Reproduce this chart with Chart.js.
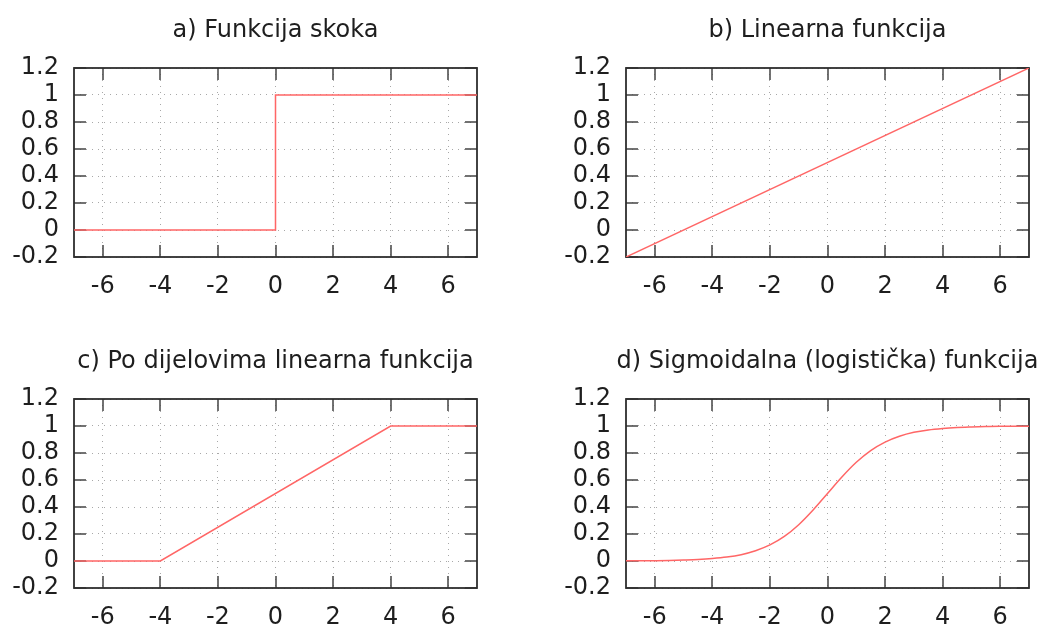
<!DOCTYPE html>
<html>
<head>
<meta charset="utf-8">
<script src="https://cdn.jsdelivr.net/npm/chart.js@4"></script>
<style>
  html, body { margin: 0; padding: 0; background: #fff; overflow: hidden; }
  body { width: 1048px; height: 628px; position: relative; }
  canvas { position: absolute; }
</style>
</head>
<body>
<canvas id="pa" width="551" height="314" style="left:0;top:0"></canvas>
<canvas id="pb" width="607" height="314" style="left:524px;top:0"></canvas>
<canvas id="pc" width="551" height="314" style="left:0;top:331px"></canvas>
<canvas id="pd" width="607" height="314" style="left:524px;top:331px"></canvas>
<script>
// ---- data ----
const xTicks = [-6, -4, -2, 0, 2, 4, 6];
const yTicks = [-0.2, 0, 0.2, 0.4, 0.6, 0.8, 1, 1.2];

const stepX = [-7, 0, 0, 7];
const stepY = [0, 0, 1, 1];

const linX = [-7, 7];
const linY = [-0.2, 1.2];

const pwX = [-7, -4, 4, 7];
const pwY = [0, 0, 1, 1];

const sigX = [-7, -6.5, -6, -5.5, -5, -4.5, -4, -3.5, -3, -2.5, -2, -1.5, -1, -0.5, 0,
              0.5, 1, 1.5, 2, 2.5, 3, 3.5, 4, 4.5, 5, 5.5, 6, 6.5, 7];
const sigY = [0.001, 0.0015, 0.0025, 0.004, 0.007, 0.011, 0.018, 0.029, 0.047, 0.076, 0.119, 0.182, 0.269, 0.378, 0.5,
              0.622, 0.731, 0.818, 0.881, 0.924, 0.953, 0.971, 0.982, 0.989, 0.993, 0.996, 0.998, 0.998, 0.999];

// ---- style ----
const FONT = "'DejaVu Sans', sans-serif";
const TEXT = '#1e1e1e';
const TICK_LEN = 12;

// inward, mirrored ticks + frame (gnuplot look), drawn under the curve
const frame = {
    id: 'frame',
    beforeDatasetsDraw(chart) {
        const { ctx, chartArea: a, scales } = chart;
        ctx.save();
        ctx.setLineDash([]);
        ctx.strokeStyle = '#444';
        ctx.lineWidth = 1.5;
        ctx.beginPath();
        xTicks.forEach(v => {
            const px = Math.round(scales.x.getPixelForValue(v));
            ctx.moveTo(px, a.bottom);
            ctx.lineTo(px, a.bottom - TICK_LEN);
            ctx.moveTo(px, a.top);
            ctx.lineTo(px, a.top + TICK_LEN);
        });
        yTicks.forEach(v => {
            const py = Math.round(scales.y.getPixelForValue(v));
            ctx.moveTo(a.left, py);
            ctx.lineTo(a.left + TICK_LEN, py);
            ctx.moveTo(a.right, py);
            ctx.lineTo(a.right - TICK_LEN, py);
        });
        ctx.stroke();

        ctx.strokeStyle = '#2e2e2e';
        ctx.lineWidth = 1.8;
        ctx.strokeRect(a.left, a.top, a.right - a.left, a.bottom - a.top);
        ctx.restore();
    }
};

function makePanel(id, title, xs, ys, yW, smooth) {
    const grid = { color: '#a8a8a8', lineWidth: 1, drawTicks: false };
    const border = { display: false, dash: [1, 5] };
    new Chart(document.getElementById(id), {
        type: 'line',
        data: {
            datasets: [{
                data: xs.map((x, i) => ({ x: x, y: ys[i] })),
                borderColor: '#ff6666',
                borderWidth: 1.5,
                pointRadius: 0,
                fill: false,
                cubicInterpolationMode: smooth ? 'monotone' : 'default',
                tension: 0
            }]
        },
        options: {
            responsive: false,
            animation: false,
            layout: { padding: 0 },
            plugins: {
                legend: { display: false },
                tooltip: { enabled: false },
                title: {
                    display: true,
                    text: title,
                    color: TEXT,
                    font: { family: FONT, size: 24, weight: 'normal', lineHeight: 1.2 },
                    padding: { top: 16, bottom: 23.2 }
                }
            },
            scales: {
                x: {
                    type: 'linear',
                    min: -7, max: 7,
                    grid: grid,
                    border: border,
                    afterBuildTicks: s => { s.ticks = xTicks.map(v => ({ value: v })); },
                    afterFit: s => { s.height = 57; },
                    ticks: {
                        color: TEXT,
                        padding: 15,
                        maxRotation: 0,
                        autoSkip: false,
                        font: { family: FONT, size: 24 },
                        callback: v => String(v)
                    }
                },
                y: {
                    type: 'linear',
                    position: 'left',
                    min: -0.2, max: 1.2,
                    grid: grid,
                    border: border,
                    afterBuildTicks: s => { s.ticks = yTicks.map(v => ({ value: v })); },
                    afterFit: s => { s.width = yW; },
                    ticks: {
                        color: TEXT,
                        padding: 15,
                        autoSkip: false,
                        font: { family: FONT, size: 24 },
                        callback: v => String(Math.round(v * 10) / 10)
                    }
                },
                yr: {
                    type: 'linear',
                    position: 'right',
                    min: 0, max: 1,
                    grid: { display: false, drawTicks: false },
                    border: { display: false },
                    ticks: { display: false },
                    afterFit: s => { s.width = yW; }
                }
            }
        },
        plugins: [frame]
    });
}

makePanel('pa', 'a) Funkcija skoka', stepX, stepY, 74, false);
makePanel('pb', 'b) Linearna funkcija', linX, linY, 102, false);
makePanel('pc', 'c) Po dijelovima linearna funkcija', pwX, pwY, 74, false);
makePanel('pd', 'd) Sigmoidalna (logistička) funkcija', sigX, sigY, 102, true);
</script>
</body>
</html>
